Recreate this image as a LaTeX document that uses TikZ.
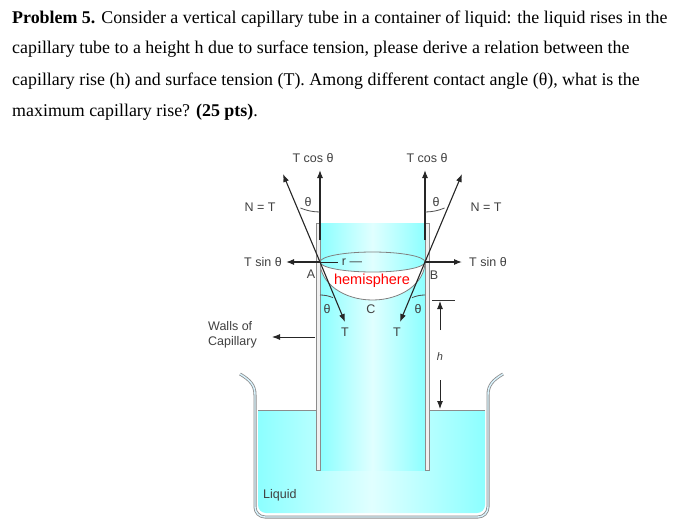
\documentclass[tikz,border=0pt]{standalone}
\usepackage{fontspec}
\setmainfont{Liberation Serif}
\newfontfamily\lab{Liberation Sans}
\usetikzlibrary{arrows.meta}
\begin{document}
\begin{tikzpicture}[x=1pt,y=-1pt,
  txt/.style={anchor=base west,inner sep=0pt,font=\fontsize{17.9}{20}\selectfont},
  lb/.style={inner sep=0pt,font=\lab\fontsize{12.5}{15}\selectfont,text=black!75},
  frc/.style={draw=black!85,line width=1.1pt,-{Latex[length=8pt,width=6pt]}},
  liq/.style={left color=cyan!45,right color=cyan!45,middle color=cyan!12,draw=none},
  wall/.style={draw=black!45,line width=0.8pt,fill=black!6}]
\useasboundingbox (0,0) rectangle (691,527);
% text
\node[txt] (l1) at (12,24) {\textbf{Problem 5.} Consider a vertical capillary tube in a container of liquid: the liquid rises in the};
\node[txt] (l2) at (12,54) {capillary tube to a height h due to surface tension, please derive a relation between the};
\node[txt] (l3) at (12,85) {capillary rise (h) and surface tension (T). Among different contact angle (θ), what is the};
\node[txt] (l4) at (12,116) {maximum capillary rise? \textbf{(25 pts)}.};
% beaker liquid
\path[liq] (258,410) -- (258,505) arc(-180:-270:8) -- (477,513) arc(-270:-360:8) -- (485,410) -- cycle;
\draw[black!45,line width=0.8pt] (258,410) -- (317,410) (428,410) -- (485,410);
% beaker wall
\draw[black!45,line width=3pt] (240,374) .. controls (250,380) and (255,385) .. (255,395) -- (255,507) arc(-180:-270:10) -- (478,517) arc(-270:-360:10) -- (488,395) .. controls (488,385) and (493,380) .. (503,374);
\draw[white!85!cyan,line width=1.4pt] (240,374) .. controls (250,380) and (255,385) .. (255,395) -- (255,507) arc(-180:-270:10) -- (478,517) arc(-270:-360:10) -- (488,395) .. controls (488,385) and (493,380) .. (503,374);
% tube liquid
\path[liq] (320,223) rectangle (425,470);
\path[fill=white] (320,262) arc(-180:-360:52.5 and 38) arc(0:180:52.5 and 10);
\draw[black!50,line width=0.8pt] (320,262) arc(-180:-360:52.5 and 38);
\draw[black!50,line width=0.8pt] (372.5,262) ellipse (52.5 and 10);
% tube walls
\draw[wall] (316,223) rectangle (320,470);
\draw[wall] (425,223) rectangle (429,470);
% forces
\coordinate (A) at (320,262);
\coordinate (B) at (425,262);
\draw[frc] (320,240) -- (320,170);
\draw[frc] (425,240) -- (425,170);
\draw[frc] (A) -- (283,174);
\draw[frc] (A) -- (345,322);
\draw[frc] (B) -- (462,174);
\draw[frc] (B) -- (400,322);
\draw[frc] (A) -- (286,262);
\draw[frc] (B) -- (462,262);
\draw[black!85,line width=0.8pt] (320,262) -- (338,262);
% angle arcs
\draw[black!70,line width=0.8pt] (320,212) arc(90:113:50);
\draw[black!70,line width=0.8pt] (425,212) arc(90:67:50);
\draw[black!70,line width=0.8pt] (320,295) arc(-90:-67:33);
\draw[black!70,line width=0.8pt] (425,295) arc(-90:-113:33);
% labels
\node[lb] (tc1) at (313,158) {T cos θ};
\node[lb] (tc2) at (427,158) {T cos θ};
\node[lb] (n1) at (260,207) {N = T};
\node[lb] (n2) at (486,207) {N = T};
\node[lb] (th1) at (308,202) {θ};
\node[lb] (th2) at (436,202) {θ};
\node[lb] (ts1) at (263,262) {T sin θ};
\node[lb] (ts2) at (488,262) {T sin θ};
\node[lb] (la) at (311,274) {A};
\node[lb] (lbb) at (434,275) {B};
\node[lb] (r) at (352,262) {r —};
\node[lb,text=red,font=\lab\fontsize{14.5}{16}\selectfont] (hem) at (372,281) {hemisphere};
\node[lb] (th3) at (327,309) {θ};
\node[lb] (th4) at (418,309) {θ};
\node[lb] (lc) at (371,309) {C};
\node[lb] (t1) at (345,332) {T};
\node[lb] (t2) at (397,332) {T};
% h
\coordinate (ht) at (432,300);
\draw[black!80,line width=0.8pt] (ht) -- (455,300);
\draw[frc,line width=0.9pt] (440,330) -- (440,301);
\draw[frc,line width=0.9pt] (440,380) -- (440,409);
\node[lb,font=\lab\itshape\fontsize{11}{12}\selectfont] (h) at (440,357) {h};
% walls label
\node[lb,align=left,anchor=west] (wl) at (208,335) {Walls of\\Capillary};
\draw[frc,line width=0.9pt] (315,337) -- (272,337);
\node[lb,anchor=west] (lq) at (263,495) {Liquid};
\end{tikzpicture}
\end{document}
